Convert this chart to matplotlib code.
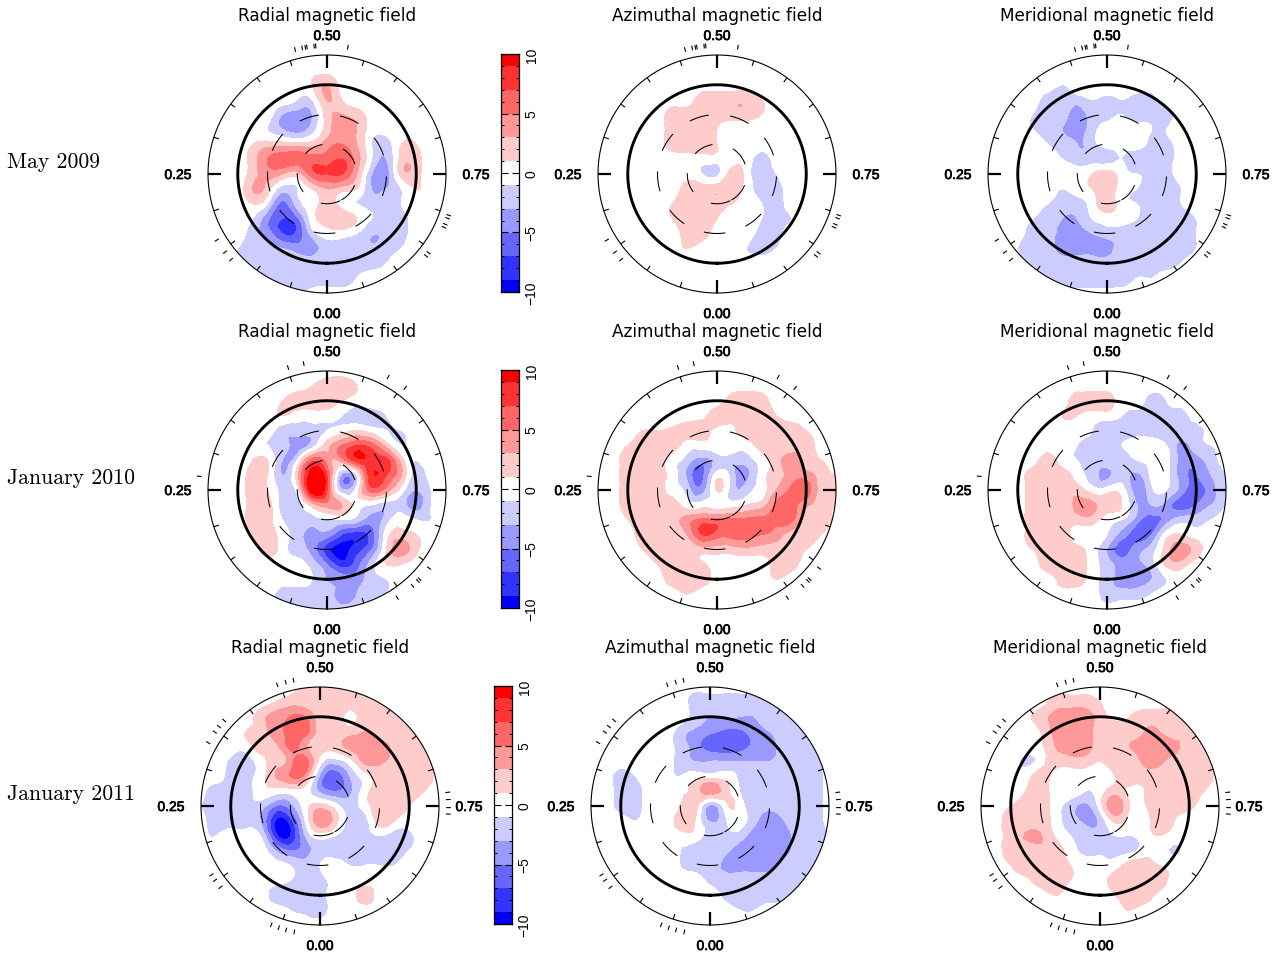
import numpy as np
import matplotlib
matplotlib.use("Agg")
import matplotlib.pyplot as plt
import matplotlib.patheffects as pe
import matplotlib.tri as mtri
from matplotlib.patches import Circle
from matplotlib.ticker import FixedLocator, FixedFormatter

W, H = 1279, 954

row_labels = ["May 2009", "January 2010", "January 2011"]
col_titles = ["Radial magnetic field", "Azimuthal magnetic field", "Meridional magnetic field"]
phase_labels = ["0.00", "0.25", "0.50", "0.75"]
cbar_ticks = [-10, -5, 0, 5, 10]
cbar_labels = ["\u221210", "\u22125", "0", "5", "10"]

Z0 = [0] * 17

radial_2009 = [
 Z0, Z0,
 [0,0,0,0,0,0,0,1,3,0,0,0,0,0,0,0,0],
 [0,0,0,0,0,0,-1,-1,3,1,0,0,0,0,0,0,0],
 [0,0,0,0,0,-3,-4,-3,2,3,2,0,0,0,0,0,0],
 [0,0,0,0,-1,-3,-4,-2,2,4,3,0,0,0,0,0,0],
 [0,0,0,1,2,2,2,2,4,5,3,-1,-2,1,1,0,0],
 [0,0,0,2,5,6,6,6,6,7,4,-1,-3,1.8,1.8,0,0],
 [0,0,0,2,4,3,2,6,7,7,3,-3,-4,1.8,1.8,0,0],
 [0,0,0,3,2,-2,-1,1,3,2,1,-3,-3,-1,1,0,0],
 [0,0,0,1,-1,-5.5,-2,0,2,0,-1,-2,-2,-1,0,0,0],
 [0,0,0,-1,-4.5,-7,-5.5,0,2,2.4,1,-1,-2,-2,0,0,0],
 [0,0,0,-2,-4,-7,-6.5,-2,0,0,-1,-2.8,-2.8,-2,0,0,0],
 [0,0,-1,-2,-2,-3,-4,-4,-2,-2,-2,-2.8,-2,-1,0,0,0],
 [0,0,-1,-2,-2,-2,-2,-2,-2,-2,-2,-2,-1,0,0,0,0],
 [0,0,0,-1,-2,-2,-2,-2,-2,-2,-1,0,0,0,0,0,0],
 [0,0,0,0,0,0,-2,0,0,0,0,0,0,0,0,0,0],
]

azimuthal_2009 = [
 Z0, Z0, Z0,
 [0,0,0,0,0,0,0,2,2.4,2.4,2.4,1,0,0,0,0,0],
 [0,0,0,0,0,2,2,2,2,2,2,1,0,0,0,0,0],
 [0,0,0,0,0,2,2,2,1,0,0,0,0,0,0,0,0],
 [0,0,0,0,0,2,2,2,1,0,0,0,0,0,0,0,0],
 [0,0,0,0,0,0,0,0,0,0,0,-2,0,0,0,0,0],
 [0,0,0,0,0,0,0,-1,-1.5,2,0,-2,-1,0,0,0,0],
 [0,0,0,0,0,0,2,2,2.4,2,0,-2,-2,0,0,0,0],
 [0,0,0,0,0,1,2,2,2,1,0,-1,-2,0,0,0,0],
 [0,0,0,0,0,1,2,2,1,0,0,-1,-2,-1,0,0,0],
 [0,0,0,0,0,0,2,2,0,0,0,-2,-2,0,0,0,0],
 [0,0,0,0,0,0,1,0,0,0,-1,-2,-1,0,0,0,0],
 Z0, Z0, Z0,
]

meridional_2009 = [
 Z0, Z0,
 [0,0,0,0,0,-1,0,0,0,0,0,0,0,0,0,0,0],
 [0,0,0,0,-2,-2,-2,-1,-1.5,-1,-2,-2,0,0,0,0,0],
 [0,0,0,-1,-2,-2,-4,-2,-1.5,-1,-2,-2,-2,0,0,0,0],
 [0,0,0,-1,-2,-3,-4,-2,0,0,0,-1,-1,0,0,0,0],
 [0,0,0,0,-1,-2,-3,-2,0,0,0,-2,-2,0,0,0,0],
 [0,0,0,0,0,-1,-2,-2,-2,-1,-2,-2,-2,0,0,0,0],
 [0,0,0,0,0,0,0,1,2,0,-1,-2,-2,0,0,0,0],
 [0,0,0,0,0,-1,0,1,2,0,-1,-2,-2,-1,0,0,0],
 [0,0,0,0,-1,-2,-2,0,2,0,-1,-2,-2,-1,0,0,0],
 [0,0,0,-1,-2,-3,-3,-1,0,0,-1,-2,-2,-2,-1,0,0],
 [0,0,0,-2,-2,-4,-4,-3,-2,-2,-2,-2,-2,-2,-1,0,0],
 [0,0,-1,-2,-2,-4,-4,-4,-4,-2,-2,-2,-2,-2,-1,0,0],
 [0,0,0,-2,-2,-2,-2,-2,-2,-2,-2,-2,-2,-1,0,0,0],
 [0,0,0,0,-2,-2,-2,-2,-2,-2,-1,-1,0,0,0,0,0],
 Z0,
]

radial_2010 = [
 Z0,
 [0,0,0,0,0,0,0,1,2,2,1,0,0,0,0,0,0],
 [0,0,0,0,0,1,2,2,2,1,0,0,0,0,0,0,0],
 [0,0,0,0,0,1,0,0,0,-1,-2,-2,-1,0,0,0,0],
 [0,0,0,0,0,-2,-2,-2,-1,0,1,0,-1,-1,0,0,0],
 [0,0,0,0,-1,-2,-4,-2,2,5,7,6,2,-1,0,0,0],
 [0,0,0,1,1,-3,-1,6,4,4,8,8.5,7.5,2,-1,0,0],
 [0,0,0,2,1,-3,2,10.5,7,-3.5,-1,8.5,7,3,-2,0,0],
 [0,0,0,2,1,-2,0,10.5,7,-2.5,0,6,4,0,-3,-1,0],
 [0,0,0,2,2,-2,-2,2,4,3,0,-1,-2,-2,-4,-1,0],
 [0,0,0,2,2,-1,-2,-2,-1,-1,-2,-4,-2,0,-1,-1,0],
 [0,0,0,1,2,0,-2,-4,-4,-7,-8,-6,0,2,1,0,0],
 [0,0,0,0,2,0,-2,-4,-8,-10,-8,-5,1,4,1.5,0,0],
 [0,0,0,0,0,0,0,-2,-5,-8,-6,-2,1,1,0,0,0],
 [0,0,0,0,0,0,0,-1,-3,-4,-4,-2,-1,0,0,0,0],
 [0,0,0,0,0,-2,-2,-2,-2,-4,-3,-2,-1,0,0,0,0],
 [0,0,0,0,0,0,-2,-2,-2,-2,-2,0,0,0,0,0,0],
]

azimuthal_2010 = [
 Z0, Z0,
 [0,0,0,0,0,0,0,0,0,2,2.4,2,0,0,0,0,0],
 [0,0,0,0,0,0,0,0.5,2,2,2,2,1,0,0,0,0],
 [0,0,0,1,1,1.5,2,2,0.5,0.5,2,2,2,2,1,0,0],
 [0,0,1,2,2,2,0,0,0,0,0,2,2,2,2,0,0],
 [0,0,2,2,2,0,-2,-4,-2,-2,-2,0,2,4,2,1,0],
 [0,0,2,2,2,0,-3.5,-5.5,0,-2,-3.5,0,2,4,4,2,1],
 [0,0,2,2,2,0,-2,-4,1.2,-2,-2,0,3,5.5,6,2,2],
 [0,0,2,2,2,2,0,0,0,0,1,2,5.5,6,3.5,2,1],
 [0,0,1,2,2,2,4,5.5,5.5,5.5,5.5,5.5,5.5,5.5,2,2,0],
 [0,0,0,2,2,2,3,7,6,6,6,5,4,2,2,1,0],
 [0,0,0,1,2,2,2,2,2,2,2.4,2,2,2,1,0,0],
 [0,0,0,0,1,2,2,1.4,0,0,0,0,2,2,0,0,0],
 [0,0,0,0,0,2,2,2,0,0,0,0,1,0,0,0,0],
 [0,0,0,0,0,0,1,0,0,0,0,0,0,0,0,0,0],
 Z0,
]

meridional_2010 = [
 Z0, Z0,
 [0,0,0,0,0,0,2,2,2,0,0,-2,-1,0,0,0,0],
 [0,0,0,0,0,1,1,0,0,-1,-2,-2,-2,-2,0,0,0],
 [0,0,0,0,0,0,0,-1,-2,-2,-2,-2,-2.8,-2,-2,0,0],
 [0,0,0,0,0,0,-1,-2,-2,-1,0,0,-1,-3.5,-2,-1,0],
 [0,0,0,0,2,0,-1,-2,-2,-2,-1,-0.3,-0.3,-4,-4,-2,0],
 [0,0,0,2,2,2,0,-2,-3.5,-2,-3.5,-0.3,-0.3,-4,-5,-3,-1],
 [0,0,0,2,2,2,2,0,0,0,-4,-1.5,-1,-4,-6,-4,-1],
 [0,0,0,2,2,2,3.5,3.5,2,1,-3,-3,-4,-6,-5,-3,-1],
 [0,0,0,2,2,2,2,2,0,-1,-4,-6,-4,-2,-2,-1,0],
 [0,0,0,2,2,2,0,0,-1,-4,-6,-5,0,1,0,0,0],
 [0,0,0,1,2,2,1.5,0,-3,-6,-4,-2,2,4,2,0,0],
 [0,0,0,0,2,2,2,0,-2,-4,-3.5,-2,1.5,2,0,0,0],
 [0,0,0,0,0,2,2,0,-2,-4,-4,-3,-1,0,0,0,0],
 [0,0,0,0,0,0,0,0,-2,-2,-2,-1,0,0,0,0,0],
 Z0,
]

radial_2011 = [
 [0,0,0,0,0,0,0,2,2,2,2,0,0,0,0,0,0],
 [0,0,0,0,0,1,2,2,2,2,2,2,2,2,1,0,0],
 [0,0,0,0,2,4,5,5,2,2,0.5,2,2,2,2,0,0],
 [0,0,0,1,2,4,6,6,2,2,2,3,2,2,2,1,0],
 [0,0,0,0,2,2.5,5.5,3.5,2,2,3.5,4,4,2.5,2,1,0],
 [0,0,-1.5,-2,0,2,4,6,0,-2,0,3.5,3.5,2.5,2,2,0],
 [0,0,-2,-2,0,3,5,4,-3.5,-6.5,-3,0,2,2,2,2,0],
 [0,-2,-2,-2,0,0,0,0,-3.5,-5,-3.5,0,2,2,2,1,0],
 [-1,-2,-2,-2,-2,-5,-4,0,2,0,-2,0,2,2,1,0,0],
 [0,-2,-2,-2,-3,-9,-8,-1,4.5,2,-2,-2,2,1,0,0,0],
 [0,-1,0,0,-1,-8,-9,-3,0,-1,-2,-2,-1,-2,-1.5,0,0],
 [0,0,0,0,0,-3,-5,-4,-2,-2,-2,-2,-2,-2,-1,0,0],
 [0,0,0,0,0,0,-1,-2,-1,0,-1,-1,-1,-1,0,0,0],
 [0,0,0,0,0,0,-1,-2,-2,0,0,0,0,0,0,0,0],
 [0,0,0,0,0,-2,-2,-2,-2,0,0,2,0,0,0,0,0],
 [0,0,0,0,0,0,-1,-1.5,-2,0,0,0,0,0,0,0,0],
 Z0,
]

azimuthal_2011 = [
 Z0,
 [0,0,0,0,0,0,0,-2,-2,-2,-2,-2,-1,0,0,0,0],
 [0,0,0,0,0,0,0,-2,-3,-3,-3,-3,-2,-2,-1,0,0],
 [0,0,0,0,0,0,-2,-3.5,-4.5,-5.5,-5.5,-4,-3,-2,-2,0,0],
 [0,0,0,0,0,0,-2,-4,-6,-6.5,-6,-4.5,-4,-2,-2,-1,0],
 [0,0,0,0,0,0,-2,-3,-3,-3,-3,-3,-3,-2,-2,-2,0],
 [0,0,-2,-1,0,0,-1,0,0,0,-1.5,-2,-2,-2,-2,-2,0],
 [0,0,-2,-2,0,0,0,2,4,2,-1,-2,-2,-2,-2,-2,0],
 [0,0,-2,-2,0,0,1,2,-3.5,0,0,-2,-2.5,-2,-2,-2,0],
 [0,0,0,-1,0,0,2,1,-3.2,-1.5,0,-2.5,-4,-3,-2,-2,0],
 [0,0,0,0,0,0,0,0,-2,-2,-2,-4,-4.2,-4,-2,-2,-1],
 [0,0,0,0,0,0,-1,-2,-2,-2.5,-4,-4.3,-4.3,-4,-2,-2,0],
 [0,0,0,0,0,0,-1,-2,-2,-3.5,-4,-4,-4,-2,-2,-1,0],
 [0,0,0,0,0,0,0,0,-1.5,-2,-2,-2,-2,-2,-2,0,0],
 [0,0,0,0,0,0,0,0,0,-1.5,-2,-2,-2,-2,0,0,0],
 [0,0,0,0,0,0,0,0,0,0,-1,-1,0,0,0,0,0],
 Z0,
]

meridional_2011 = [
 Z0,
 [0,0,0,0,0,2,2,2,1,0,0,0,0,0,0,0,0],
 [0,0,0,0.5,2,3.5,4,4,2,0.5,1,2,2,2,0,0,0],
 [0,0,0,0,1,3.5,4,4,2,2,2,3,3,2,2,0,0],
 [0,0,0,0,0.5,3,4,4,2,2,3,4,4,3.5,2,1,0],
 [0,0,0,-1.4,0,2,2,2,1,2,2,3.5,3.5,2,2,2,0],
 [0,0,0,0,2,0,0,0,0,1,2,2,2,2,2,2,0],
 [0,0,0,1,2,0,0,-1,0,2,0.5,1,2,2,2,1,0],
 [0,0,1,2,2,0,-2,-3.5,0,4.5,1,0.8,2,2,1.5,0,0],
 [0,0,2,2,2.2,0,-2,-3.5,-2.5,1.5,0,0,2,1,0,0,0],
 [0,0,2,3.1,3.1,0.8,-1,-2,-2,-1,-1,0,1,0,0,0,0],
 [0,0,2,2,2.4,2,0,-1.5,-1.5,-1.5,-1.5,0,0,-1.3,0,0,0],
 [0,0,1,2,2,2,1,0,0,0,2,2,1,0,0,0,0],
 [0,0,0,0.5,2,2,1,0,0,2,2,2,2,0,0,0,0],
 [0,0,0,0,0,1,0,0,0,1,2,2,0.5,0,0,0,0],
 [0,0,0,0,0,0,0,0,0,0,1,0,0,0,0,0,0],
 Z0,
]

obs_2009 = [.460, .469, .473, .475, .484, .486, .526, .164, .146, .134,
            .855, .860, .814, .818, .802, .806]
obs_2010 = [.451, .471, .579, .604, .267, .908, .884, .875, .872, .854]
obs_2011 = [.446, .457, .467, .332, .3475, .356, .366, .733, .742, .752, .760,
            .160, .152, .141, .062, .052, .0425, .032]

panels = [[radial_2009, azimuthal_2009, meridional_2009],
          [radial_2010, azimuthal_2010, meridional_2010],
          [radial_2011, azimuthal_2011, meridional_2011]]
observations = [obs_2009, obs_2010, obs_2011]

col_x = [[327, 717, 1107], [327, 717, 1107], [320, 710, 1100]]
row_y = [175, 491, 807]
label_y = [162, 478, 794]
R_PX = 119
LIM = 1.30

levels = [-11, -9, -7, -5, -3, -1, 1, 3, 5, 7, 9, 11]
colors = ["#0000ff", "#3333ff", "#6666ff", "#9999ff", "#ccccff", "#ffffff",
          "#ffcccc", "#ff9999", "#ff6666", "#ff3333", "#ff0000"]

fig = plt.figure(figsize=(W / 100, H / 100), dpi=100)
SANS = "Liberation Sans"


def px_axes(x0, y0, x1, y1):
    return fig.add_axes([x0 / W, 1 - y1 / H, (x1 - x0) / W, (y1 - y0) / H])


def xy(phase, r):
    a = 2 * np.pi * np.asarray(phase, float)
    r = np.asarray(r, float)
    return -r * np.sin(a), -r * np.cos(a)


grid = np.linspace(-1, 1, 17)
gx, gy = np.meshgrid(grid, grid[::-1])
tri = mtri.Triangulation(gx.ravel(), gy.ravel())
refiner = mtri.UniformTriRefiner(tri)

for i, row in enumerate(panels):
    for j, values in enumerate(row):
        cx, cy = col_x[i][j], row_y[i]
        half = R_PX * LIM
        ax = px_axes(cx - half, cy - half, cx + half, cy + half)
        ax.set_xlim(-LIM, LIM)
        ax.set_ylim(-LIM, LIM)
        ax.axis("off")
        ax.patch.set_alpha(0)

        z = np.array(values, float).ravel()
        fine_tri, fine_z = refiner.refine_field(z, subdiv=3)
        cs = ax.tricontourf(fine_tri, np.clip(fine_z, -10.9, 10.9), levels=levels, colors=colors)
        clip = Circle((0, 0), 1.0, transform=ax.transData)
        cs.set_clip_path(clip)

        th = np.linspace(0, 1, 721)
        ax.plot(*xy(th, 1.0), color="k", lw=0.8, zorder=5)
        ax.plot(*xy(th, 0.75), color="k", lw=2.1, zorder=5)
        for r, start in ((0.5, -0.018), (0.25, -0.074)):
            t = np.linspace(start, start + 1, 721)
            ax.plot(*xy(t, r), color="k", lw=0.75, ls=(0, (19.2, 20.5)),
                    dash_capstyle="butt", zorder=5)

        for k in range(20):
            p = k * 0.05
            major = k % 5 == 0
            r0 = 0.89 if major else 0.955
            x, y = xy([p, p], [r0, 1.0])
            ax.plot(x, y, color="k", lw=1.6 if major else 0.8, zorder=5,
                    solid_capstyle="butt")
        for p in observations[i]:
            x, y = xy([p, p], [1.06, 1.10])
            ax.plot(x, y, color="k", lw=0.8, solid_capstyle="butt", clip_on=False)

        for p, lab in zip((0, 0.25, 0.5, 0.75), phase_labels):
            if p in (0.25, 0.75):
                x, y = xy(p, 149.0 / R_PX)
            else:
                x, y = xy(p, 139.0 / R_PX)
            ax.text(x, y - 1.0 / R_PX, lab, ha="center", va="center", fontsize=10,
                    family=SANS, clip_on=False,
                    path_effects=[pe.withStroke(linewidth=0.5, foreground="k")])
        fig.text(cx / W, 1 - (row_y[i] - 159) / H, col_titles[j], ha="center", va="center",
                 fontsize=12.15, family="DejaVu Sans")

    fig.text(7 / W, 1 - label_y[i] / H, row_labels[i], ha="left", va="center",
             fontsize=15.7, family="cmr10")

cbar_x = [501, 501, 494]
cbar_top = [55, 371, 687]
for i in range(3):
    cax = px_axes(cbar_x[i], cbar_top[i], cbar_x[i] + 18, cbar_top[i] + 238)
    edges = [-10, -9, -7, -5, -3, -1, 1, 3, 5, 7, 9, 10]
    for lo, hi, c in zip(edges[:-1], edges[1:], colors):
        cax.axhspan(lo, hi, color=c, lw=0)
    cax.set_xlim(0, 1)
    cax.set_ylim(-10, 10)
    cax.set_xticks([])
    cax.yaxis.set_major_locator(FixedLocator(cbar_ticks))
    cax.yaxis.set_major_formatter(FixedFormatter(cbar_labels))
    cax.yaxis.set_minor_locator(FixedLocator(list(range(-10, 11))))
    cax.tick_params(axis="y", which="major", direction="in", left=True, right=True,
                    labelleft=False, labelright=True, length=5, width=0.8, pad=4)
    cax.tick_params(axis="y", which="minor", direction="in", left=True, right=True, length=2.5, width=0.7)
    for t in cax.get_yticklabels():
        t.set_rotation(90)
        t.set_va("center")
        t.set_family(SANS)
        t.set_fontsize(10)
    for s in cax.spines.values():
        s.set_linewidth(0.9)

fig.savefig("out.png", dpi=100)
